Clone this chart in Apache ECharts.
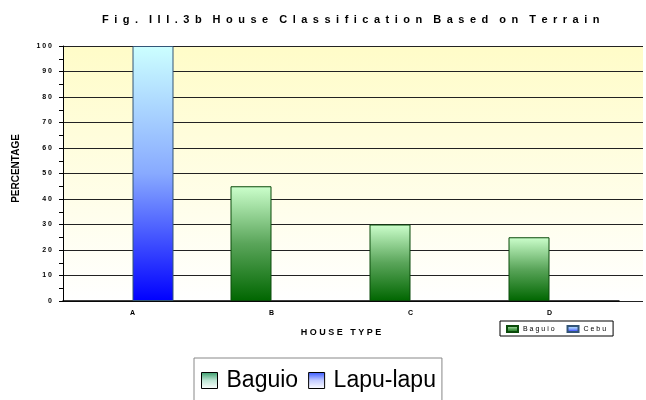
<!DOCTYPE html>
<html>
<head>
<meta charset="utf-8">
<script src="https://cdn.jsdelivr.net/npm/echarts@6/dist/echarts.min.js"></script>
<style>
    html, body { margin: 0; padding: 0; background: #fff; }
    #chart { width: 646px; height: 400px; }
</style>
</head>
<body>
<div id="chart"></div>
<script>
    // data
    var categories = ['A', 'B', 'C', 'D'];
    var baguioValues = [0, 45, 30, 25];
    var cebuValues = [100, 0, 0, 0];
    var yTicks = [0, 100, 10];   // min, max, interval

    // old excel look: letters spread apart
    function spaced(s, gap, wordGap) {
        return s.split(' ').map(function (w) { return w.split('').join(gap); }).join(wordGap);
    }

    function grad(top, mid, bottom) {
        return new echarts.graphic.LinearGradient(0, 0, 0, 1, [
            {offset: 0, color: top}, {offset: 0.5, color: mid}, {offset: 1, color: bottom}
        ]);
    }

    var myChart = echarts.init(document.getElementById('chart'));
    var fontFam = 'Liberation Sans, Arial';

    var option = {
        animation: false,
        title: {
            text: spaced('Fig. III.3b House Classification Based on Terrain', '\u2002', '\u2002\u2002'),
            left: 97, top: 9,
            textStyle: {fontFamily: fontFam, fontWeight: 'bold', fontSize: 11, color: '#000'}
        },
        legend: [
            {
                data: ['Baguio', 'Cebu'],
                left: 500, top: 321,
                itemWidth: 11, itemHeight: 6, itemGap: 12,
                padding: [4, 7, 3, 6],
                borderColor: '#000', borderWidth: 1,
                icon: 'rect',
                formatter: function (n) { return n.split('').join(' '); },
                textStyle: {fontFamily: fontFam, fontSize: 7, color: '#000'}
            },
            {
                data: [
                    {name: 'Baguio', itemStyle: {color: grad('#339966', '#bfe6d5', '#ffffff'), borderColor: '#000', borderWidth: 1}},
                    {name: 'Lapu-lapu', itemStyle: {color: grad('#3355ff', '#c4ccff', '#ffffff'), borderColor: '#000', borderWidth: 1}}
                ],
                left: 194, top: 358,
                itemWidth: 16, itemHeight: 16, itemGap: 10,
                padding: [11, 6, 30, 7],
                borderColor: '#888', borderWidth: 1,
                icon: 'rect',
                selectedMode: false,
                textStyle: {fontFamily: fontFam, fontSize: 23, color: '#000', padding: [0, 0, 0, 4]}
            }
        ],
        grid: [
            {
                left: 63, right: 3, top: 46, bottom: 99, show: true, borderWidth: 0,
                backgroundColor: new echarts.graphic.LinearGradient(0, 0, 0, 1, [
                    {offset: 0, color: '#fffcc8'}, {offset: 1, color: '#ffffff'}
                ])
            },
            {left: 63, right: 27, top: 46, bottom: 99}
        ],
        xAxis: [
            {gridIndex: 0, type: 'value', show: false, min: 0, max: 1},
            {
                gridIndex: 1, type: 'category', data: categories,
                name: spaced('HOUSE TYPE', ' ', '   '), nameLocation: 'middle', nameGap: 27,
                nameTextStyle: {fontFamily: fontFam, fontWeight: 'bold', fontSize: 9, color: '#000'},
                axisLine: {lineStyle: {color: '#000', width: 1.5}},
                axisTick: {length: 3, lineStyle: {color: '#000'}},
                axisLabel: {fontSize: 7, margin: 9, fontFamily: fontFam, fontWeight: 'bold', color: '#000'}
            }
        ],
        yAxis: [
            {
                gridIndex: 0, type: 'value', min: yTicks[0], max: yTicks[1], interval: yTicks[2],
                name: 'PERCENTAGE', nameLocation: 'middle', nameGap: 42,
                nameTextStyle: {fontFamily: fontFam, fontWeight: 'bold', fontSize: 10, color: '#000', padding: [0, 0, 0, 10]},
                axisLine: {show: true, lineStyle: {color: '#000', width: 1}},
                axisTick: {show: true, length: 4, lineStyle: {color: '#000'}},
                minorTick: {show: true, splitNumber: 2, length: 4, lineStyle: {color: '#000'}},
                splitLine: {lineStyle: {color: '#222', width: 1}},
                axisLabel: {
                    fontSize: 7, margin: 11, fontFamily: fontFam, fontWeight: 'bold', color: '#000',
                    formatter: function (v) { return String(v).split('').join(' '); }
                }
            },
            {gridIndex: 1, type: 'value', min: yTicks[0], max: yTicks[1], show: false}
        ],
        series: [
            {
                name: 'Baguio', type: 'bar', xAxisIndex: 1, yAxisIndex: 1,
                data: baguioValues.map(function (v) { return v || null; }),
                barWidth: 41, barGap: '0%',
                itemStyle: {color: grad('#ccffcc', '#5aa55a', '#006600'), borderColor: '#0a4a0a', borderWidth: 1},
                z: 5
            },
            {
                name: 'Cebu', type: 'bar', xAxisIndex: 1, yAxisIndex: 1,
                data: cebuValues.map(function (v) { return v || null; }),
                barWidth: 41, barGap: '0%',
                itemStyle: {color: grad('#ccffff', '#88aaff', '#0000ff'), borderColor: '#335577', borderWidth: 1},
                z: 5
            },
            {name: 'Lapu-lapu', type: 'bar', xAxisIndex: 1, yAxisIndex: 1, data: []}
        ]
    };
    myChart.setOption(option);
</script>
</body>
</html>
